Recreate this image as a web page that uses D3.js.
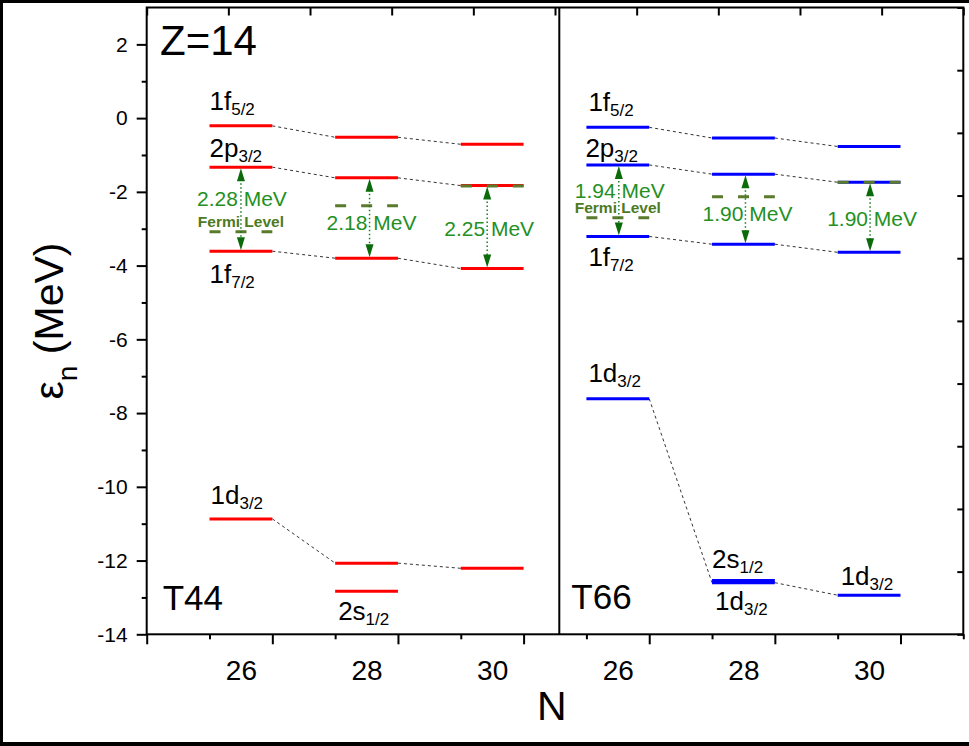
<!DOCTYPE html>
<html>
<head>
<meta charset="utf-8">
<script src="https://cdn.jsdelivr.net/npm/d3@7"></script>
<style>
body { margin: 0; background: #fff; }
text { font-family: "Liberation Sans", Arial, sans-serif; }
</style>
</head>
<body>
<script>

/* Neutron single-particle levels for Z=14 (MeV), per N */
var nValues = [26, 28, 30];
var panelNames = ["T44", "T66"];
var nTickLabels = ["26", "28", "30", "26", "28", "30"];
var yTickValues = [-14, -12, -10, -8, -6, -4, -2, 0, 2];

var f52_T44 = [-0.21, -0.52, -0.71];
var p32_T44 = [-1.33, -1.62, -1.83];
var f72_T44 = [-3.61, -3.80, -4.08];
var d32_T44 = [-10.87, -12.07, -12.21];
var s12_T44 = [null, -12.83, null];
var fermi_T44 = [-3.08, -2.38, -1.84];
var gap_T44 = ["2.28 MeV", "2.18 MeV", "2.25 MeV"];

var f52_T66 = [-0.25, -0.54, -0.77];
var p32_T66 = [-1.27, -1.52, -1.74];
var f72_T66 = [-3.21, -3.42, -3.64];
var d32_T66 = [-7.61, -12.60, -12.94];
var s12_T66 = [null, -12.54, null];
var fermi_T66 = [-2.70, -2.13, -1.74];
var gap_T66 = ["1.94 MeV", "1.90 MeV", "1.90 MeV"];

/* Layout constants */
var width = 969,
    height = 746;
var plotLeft = 146.7, plotRight = 963.3, plotTop = 7.5, plotBottom = 634.3;
var divider = 559.3;
var panelShift = 6;

var svg = d3.select("body").append("svg")
    .attr("width", width)
    .attr("height", height);

var xScale = d3.scaleLinear().domain([24.5, 37.5]).range([plotLeft, plotRight]);
var yScale = d3.scaleLinear().domain([-14, 3]).range([plotBottom, plotTop]);

function xPos(p, n) { return xScale(n + p * panelShift); }

var panels = [
    { f52: f52_T44, p32: p32_T44, f72: f72_T44, d32: d32_T44, s12: s12_T44, fermi: fermi_T44, gap: gap_T44, color: "#ff0000" },
    { f52: f52_T66, p32: p32_T66, f72: f72_T66, d32: d32_T66, s12: s12_T66, fermi: fermi_T66, gap: gap_T66, color: "#0000ff" }
];
var chains = ["f52", "p32", "f72", "d32", "s12"];
var connected = ["f52", "p32", "f72", "d32"];

/* label placement: [panel, N index, level, dx, dy, main, sub] */
var labelSpots = [
    [0, 0, "f52", 0, -16, "1f", "5/2"],
    [0, 0, "p32", 0, -10, "2p", "3/2"],
    [0, 0, "f72", 0, 32, "1f", "7/2"],
    [0, 0, "d32", 1, -15, "1d", "3/2"],
    [0, 1, "s12", 3, 29, "2s", "1/2"],
    [1, 0, "f52", 2, -16, "1f", "5/2"],
    [1, 0, "p32", -1, -8, "2p", "3/2"],
    [1, 0, "f72", 2, 30, "1f", "7/2"],
    [1, 0, "d32", 2, -17, "1d", "3/2"],
    [1, 1, "s12", 0, -12, "2s", "1/2"],
    [1, 1, "d32", 3, 27, "1d", "3/2"],
    [1, 2, "d32", 3, -10, "1d", "3/2"]
];
var gapDx = [[0, 3, -5], [1, 2, 1]];
var gapDy = [-3, 12, 9];

/* connectors */
var connG = svg.append("g");
panels.forEach(function(pd, p) {
    connected.forEach(function(key) {
        var vals = pd[key];
        for (var i = 0; i < vals.length - 1; i++) {
            if (vals[i] === null || vals[i + 1] === null) continue;
            connG.append("line")
                .attr("x1", xPos(p, nValues[i] + 0.5))
                .attr("y1", yScale(vals[i]))
                .attr("x2", xPos(p, nValues[i + 1] - 0.5))
                .attr("y2", yScale(vals[i + 1]))
                .attr("stroke", "#333")
                .attr("stroke-width", 1)
                .attr("stroke-dasharray", "3,3");
        }
    });
});

/* level bars */
var barG = svg.append("g");
panels.forEach(function(pd, p) {
    chains.forEach(function(key) {
        pd[key].forEach(function(v, i) {
            if (v === null) return;
            barG.append("line")
                .attr("x1", xPos(p, nValues[i] - 0.5))
                .attr("x2", xPos(p, nValues[i] + 0.5))
                .attr("y1", yScale(v))
                .attr("y2", yScale(v))
                .attr("stroke", pd.color)
                .attr("stroke-width", 3);
        });
    });
});

/* Fermi levels, gap arrows and gap labels */
var annG = svg.append("g");
panels.forEach(function(pd, p) {
    nValues.forEach(function(n, i) {
        annG.append("line")
            .attr("x1", xPos(p, n - 0.5))
            .attr("x2", xPos(p, n + 0.5))
            .attr("y1", yScale(pd.fermi[i]))
            .attr("y2", yScale(pd.fermi[i]))
            .attr("stroke", "#5a7a2c")
            .attr("stroke-width", 3)
            .attr("stroke-dasharray", "11,15");

        var cx = xPos(p, n) + gapDx[p][i];
        var yTop = yScale(pd.p32[i]), yBot = yScale(pd.f72[i]);
        annG.append("line")
            .attr("x1", cx).attr("x2", cx)
            .attr("y1", yTop + 12).attr("y2", yBot - 12)
            .attr("stroke", "#1c7a1c")
            .attr("stroke-width", 1.5)
            .attr("stroke-dasharray", "1.5,2.5");
        annG.append("path")
            .attr("d", "M" + cx + "," + (yTop + 1) + "L" + (cx - 4) + "," + (yTop + 14) + "L" + (cx + 4) + "," + (yTop + 14) + "Z")
            .attr("fill", "#0b6b0b");
        annG.append("path")
            .attr("d", "M" + cx + "," + (yBot - 1) + "L" + (cx - 4) + "," + (yBot - 14) + "L" + (cx + 4) + "," + (yBot - 14) + "Z")
            .attr("fill", "#0b6b0b");

        annG.append("text")
            .attr("x", cx + (i === 0 ? 1 : 2))
            .attr("y", (yTop + yBot) / 2 + gapDy[i])
            .attr("text-anchor", "middle")
            .attr("font-size", "21px")
            .attr("fill", "#23901f")
            .text(pd.gap[i]);

        if (i === 0) {
            annG.append("text")
                .attr("x", xPos(p, n))
                .attr("y", yScale(pd.fermi[i]) - 5)
                .attr("text-anchor", "middle")
                .attr("font-size", "15.5px")
                .attr("font-weight", "bold")
                .attr("fill", "#4e7a22")
                .text("Fermi Level");
        }
    });
});

/* orbital labels */
labelSpots.forEach(function(s) {
    var v = panels[s[0]][s[2]][s[1]];
    var t = svg.append("text")
        .attr("x", xPos(s[0], nValues[s[1]] - 0.5) + s[3])
        .attr("y", yScale(v) + s[4])
        .attr("font-size", "26px")
        .attr("fill", "#000");
    t.append("tspan").text(s[5]);
    t.append("tspan").attr("font-size", "17px").attr("dy", 5).text(s[6]);
});

/* axes */
var yAxis = d3.axisLeft(yScale).tickValues(yTickValues).tickSize(10).tickPadding(9)
    .tickFormat(function(d) { return String(d); });
var yMinor = d3.axisLeft(yScale).tickValues(d3.range(-13, 3, 2)).tickSize(5).tickFormat("");

var gy = svg.append("g").attr("transform", "translate(" + plotLeft + ",0)").call(yAxis);
gy.selectAll("text").attr("font-size", "21px").attr("font-family", "Liberation Sans, Arial, sans-serif");
var gym = svg.append("g").attr("transform", "translate(" + plotLeft + ",0)").call(yMinor);

var xMajor = d3.axisBottom(xScale).tickValues(d3.range(24.5, 37, 2)).tickSize(10).tickFormat("");
var xMinor = d3.axisBottom(xScale).tickValues(d3.range(25.5, 38, 2)).tickSize(5).tickFormat("");
var xLabels = d3.axisBottom(xScale).tickValues(d3.range(26, 37, 2)).tickSize(0).tickPadding(26)
    .tickFormat(function(d, i) { return nTickLabels[i]; });

var gx1 = svg.append("g").attr("transform", "translate(0," + plotBottom + ")").call(xMajor);
var gx2 = svg.append("g").attr("transform", "translate(0," + plotBottom + ")").call(xMinor);
var gx3 = svg.append("g").attr("transform", "translate(0," + plotBottom + ")").call(xLabels);
gx3.selectAll("text").attr("font-size", "28px").attr("font-family", "Liberation Sans, Arial, sans-serif");

var topScale = d3.scaleLinear().domain([0, 10]).range([plotLeft, plotRight]);
var rightScale = d3.scaleLinear().domain([0, 10]).range([plotBottom, plotTop]);
var gt = svg.append("g").attr("transform", "translate(0," + plotTop + ")")
    .call(d3.axisBottom(topScale).ticks(10).tickSize(8).tickFormat(""));
var gr = svg.append("g").attr("transform", "translate(" + plotRight + ",0)")
    .call(d3.axisLeft(rightScale).ticks(10).tickSize(6).tickFormat(""));

[gy, gym, gx1, gx2, gx3, gt, gr].forEach(function(g) {
    g.select(".domain").remove();
    g.selectAll(".tick line").attr("stroke", "#000").attr("stroke-width", 2);
    g.selectAll(".tick text").attr("fill", "#000");
});

/* plot box and panel divider */
svg.append("rect")
    .attr("x", plotLeft).attr("y", plotTop)
    .attr("width", plotRight - plotLeft).attr("height", plotBottom - plotTop)
    .attr("fill", "none").attr("stroke", "#000").attr("stroke-width", 2);
svg.append("line")
    .attr("x1", divider).attr("x2", divider)
    .attr("y1", plotTop).attr("y2", plotBottom)
    .attr("stroke", "#000").attr("stroke-width", 2);

/* texts */
svg.append("text").attr("x", 160).attr("y", 55).attr("font-size", "42px").text("Z=14");
svg.append("text").attr("x", plotLeft + 16).attr("y", 610).attr("font-size", "35px").text(panelNames[0]);
svg.append("text").attr("x", divider + 12).attr("y", 609).attr("font-size", "35px").text(panelNames[1]);

svg.append("text")
    .attr("x", 551.7).attr("y", 720)
    .attr("text-anchor", "middle")
    .attr("font-size", "41px")
    .text("N");

var yl = svg.append("text")
    .attr("transform", "translate(63,321) rotate(-90)")
    .attr("text-anchor", "middle")
    .attr("font-size", "41px");
yl.append("tspan").text("ε");
yl.append("tspan").attr("font-size", "28px").attr("dy", 14).text("n");
yl.append("tspan").attr("dy", -14).text(" (MeV)");

/* outer frame (left, top, bottom) */
svg.append("line").attr("x1", 1.5).attr("x2", 1.5).attr("y1", 0).attr("y2", height)
    .attr("stroke", "#000").attr("stroke-width", 3);
svg.append("line").attr("x1", 0).attr("x2", width).attr("y1", 1.5).attr("y2", 1.5)
    .attr("stroke", "#000").attr("stroke-width", 3);
svg.append("line").attr("x1", 0).attr("x2", width).attr("y1", 744).attr("y2", 744)
    .attr("stroke", "#000").attr("stroke-width", 4);

</script>
</body>
</html>
